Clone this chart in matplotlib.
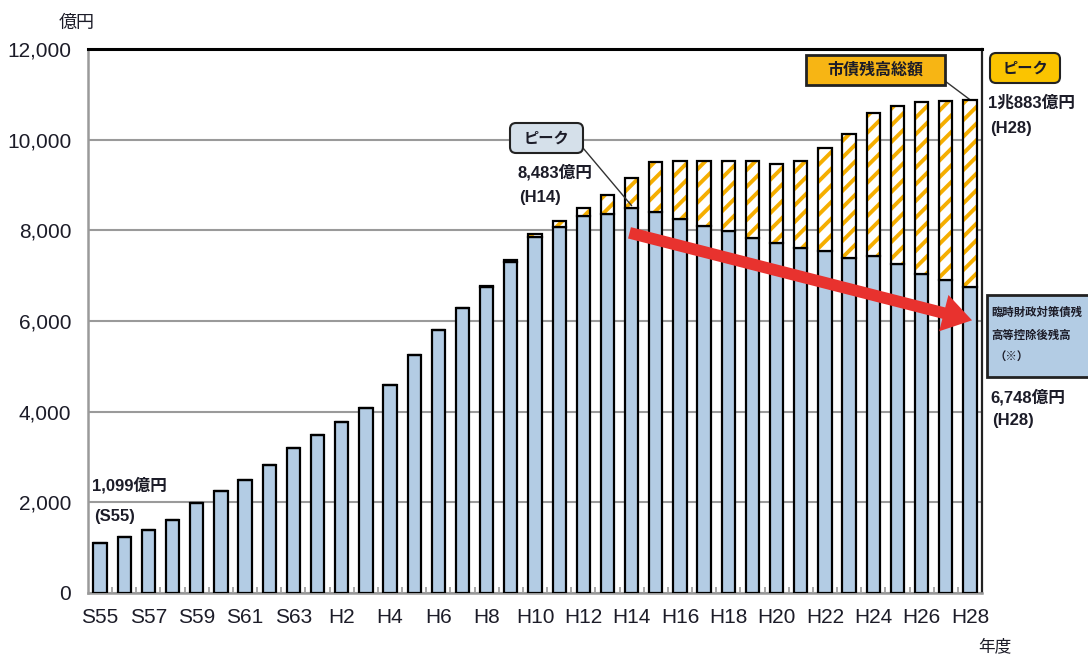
import matplotlib
matplotlib.use('Agg')
import matplotlib.pyplot as plt
from matplotlib import font_manager
from matplotlib.patches import FancyBboxPatch, FancyArrowPatch
from matplotlib.transforms import IdentityTransform
import numpy as np

# 年度
years = ['S55', 'S56', 'S57', 'S58', 'S59', 'S60', 'S61', 'S62', 'S63',
         'H1', 'H2', 'H3', 'H4', 'H5', 'H6', 'H7', 'H8', 'H9', 'H10',
         'H11', 'H12', 'H13', 'H14', 'H15', 'H16', 'H17', 'H18', 'H19', 'H20',
         'H21', 'H22', 'H23', 'H24', 'H25', 'H26', 'H27', 'H28']
# 臨時財政対策債残高等控除後残高 (億円)
kouzyo = [1099, 1225, 1390, 1610, 1980, 2250, 2500, 2830, 3190,
          3480, 3770, 4090, 4580, 5240, 5800, 6290, 6740, 7310, 7860,
          8080, 8310, 8360, 8483, 8410, 8250, 8100, 7990, 7840, 7720,
          7620, 7540, 7390, 7440, 7260, 7040, 6900, 6748]
# 市債残高総額 (億円)
total = [1099, 1225, 1390, 1610, 1980, 2250, 2500, 2830, 3190,
         3480, 3770, 4090, 4580, 5240, 5800, 6290, 6765, 7335, 7910,
         8210, 8500, 8770, 9150, 9500, 9520, 9530, 9530, 9530, 9470,
         9530, 9815, 10120, 10580, 10740, 10820, 10860, 10883]
yticks = [0, 2000, 4000, 6000, 8000, 10000, 12000]

W, H = 1088, 655
names = {f.name for f in font_manager.fontManager.ttflist}
narrow = 'Liberation Sans Narrow' in names
NUM = 'Liberation Sans Narrow' if narrow else 'Liberation Sans'
JP = 'Noto Sans CJK JP'
plt.rcParams['font.family'] = [NUM, JP, 'DejaVu Sans']
plt.rcParams['hatch.linewidth'] = 2.8

TXT = '#1c1c28'
TICK = 17 if narrow else 15
ANN = 13 if narrow else 12


def fx(px):
    return px / W


def fy(py):
    return 1 - py / H


fig = plt.figure(figsize=(W / 100, H / 100), dpi=100)
ax = fig.add_axes([fx(88), fy(593), (982 - 88) / W, (593 - 49) / H])

x = np.arange(len(years))
kouzyo = np.array(kouzyo)
extra = np.array(total) - kouzyo
bw = 0.55
ax.bar(x, kouzyo, width=bw, color='#b3cce4', edgecolor='black', lw=1.6, zorder=3)
ax.bar(x, extra, bottom=kouzyo, width=bw, color='white', edgecolor='#f5ae00',
       hatch='//', lw=0, zorder=3)
ax.bar(x, extra, bottom=kouzyo, width=bw, fill=False, edgecolor='black', lw=1.6, zorder=4)

ax.set_xlim(-0.5, len(years) - 0.5)
ax.set_ylim(0, 12000)
ax.set_yticks(yticks)
ax.set_yticklabels([f'{v:,}' for v in yticks])
ax.set_xticks(x[::2])
ax.set_xticklabels(years[::2])
ax.set_xticks(x[:-1] + 0.5, minor=True)
ax.tick_params(axis='x', which='major', length=0, pad=11, labelsize=TICK, labelcolor=TXT)
ax.tick_params(axis='x', which='minor', direction='in', length=4, color='#999999', width=1.2)
ax.tick_params(axis='y', length=0, pad=12, labelsize=TICK, labelcolor=TXT)
ax.grid(axis='y', color='#9a9a9a', lw=1.5, zorder=0)
ax.set_axisbelow(True)
for s in ['left', 'bottom']:
    ax.spines[s].set_color('#9a9a9a')
    ax.spines[s].set_linewidth(1.8)
ax.spines['top'].set_color('black')
ax.spines['top'].set_linewidth(2.2)
ax.spines['right'].set_color('#222222')
ax.spines['right'].set_linewidth(1.6)

# 赤矢印 (ピーク→H28)
i14 = years.index('H14')
i28 = years.index('H28')
arr = FancyArrowPatch((i14 - 0.2, 7960), (i28 + 0.2, 6000),
                      arrowstyle='simple,head_length=1.05,head_width=1.35,tail_width=0.42',
                      mutation_scale=20, color='#e8322e', lw=0, zorder=6, clip_on=False)
ax.add_patch(arr)


def box(x0, y0, x1, y1, face, rounded=True, lw=1.5):
    style = 'round,pad=0,rounding_size=6' if rounded else 'square,pad=0'
    p = FancyBboxPatch((x0, H - y1), x1 - x0, y1 - y0, boxstyle=style,
                       transform=IdentityTransform(), facecolor=face,
                       edgecolor='#222222', lw=lw, zorder=10)
    fig.add_artist(p)


# ピーク (H14)
box(510, 123, 583, 153, '#d5e0ea')
fig.text(fx(546), fy(138), 'ピーク', family=JP, fontsize=11, weight='bold',
         color=TXT, ha='center', va='center', zorder=11)
ax.annotate('', xy=(i14, kouzyo[i14] + 60), xycoords='data',
            xytext=(583, H - 148), textcoords='figure pixels',
            arrowprops=dict(arrowstyle='-', color='#333333', lw=1, shrinkA=0, shrinkB=0),
            zorder=7)
fig.text(fx(517), fy(172), f'{kouzyo[i14]:,}億円', fontsize=ANN, weight='bold',
         color=TXT, ha='left', va='center')
fig.text(fx(519), fy(197), '(H14)', fontsize=ANN, weight='bold',
         color=TXT, ha='left', va='center')

# 市債残高総額
box(806, 55, 945, 85, '#f7b514', rounded=False, lw=2)
fig.text(fx(875), fy(70), '市債残高総額', family=JP, fontsize=11.5, weight='bold',
         color=TXT, ha='center', va='center', zorder=11)
ax.annotate('', xy=(i28, total[i28]), xycoords='data',
            xytext=(945, H - 81), textcoords='figure pixels',
            arrowprops=dict(arrowstyle='-', color='#333333', lw=1, shrinkA=0, shrinkB=0))

# ピーク (H28)
box(990, 53, 1060, 83, '#fbc400')
fig.text(fx(1025), fy(68), 'ピーク', family=JP, fontsize=11, weight='bold',
         color=TXT, ha='center', va='center', zorder=11)
fig.text(fx(988), fy(103), '1兆883億円', fontsize=ANN, weight='bold',
         color=TXT, ha='left', va='center')
fig.text(fx(990), fy(128), '(H28)', fontsize=ANN, weight='bold',
         color=TXT, ha='left', va='center')

# 臨時財政対策債残高等控除後残高
box(987, 295, 1100, 377, '#b3cce4', rounded=False, lw=2)
fig.text(fx(991), fy(312), '臨時財政対策債残', family=JP, fontsize=8.2, weight='bold',
         color=TXT, ha='left', va='center', zorder=11)
fig.text(fx(991), fy(335), '高等控除後残高', family=JP, fontsize=8.2, weight='bold',
         color=TXT, ha='left', va='center', zorder=11)
fig.text(fx(995), fy(356), '（※）', family=JP, fontsize=8.2, weight='bold',
         color=TXT, ha='left', va='center', zorder=11)
fig.text(fx(990), fy(397), f'{kouzyo[i28]:,}億円', fontsize=ANN, weight='bold',
         color=TXT, ha='left', va='center')
fig.text(fx(992), fy(421), '(H28)', fontsize=ANN, weight='bold',
         color=TXT, ha='left', va='center')

# S55
fig.text(fx(92), fy(485), f'{kouzyo[0]:,}億円', fontsize=ANN, weight='bold',
         color=TXT, ha='left', va='center')
fig.text(fx(94), fy(517), '(S55)', fontsize=ANN, weight='bold',
         color=TXT, ha='left', va='center')

# 単位
fig.text(fx(77), fy(23), '億円', family=JP, fontsize=13, color=TXT, ha='center', va='center')
fig.text(fx(995), fy(647), '年度', family=JP, fontsize=12, color=TXT, ha='center', va='center')

fig.savefig('out.png', dpi=100)
